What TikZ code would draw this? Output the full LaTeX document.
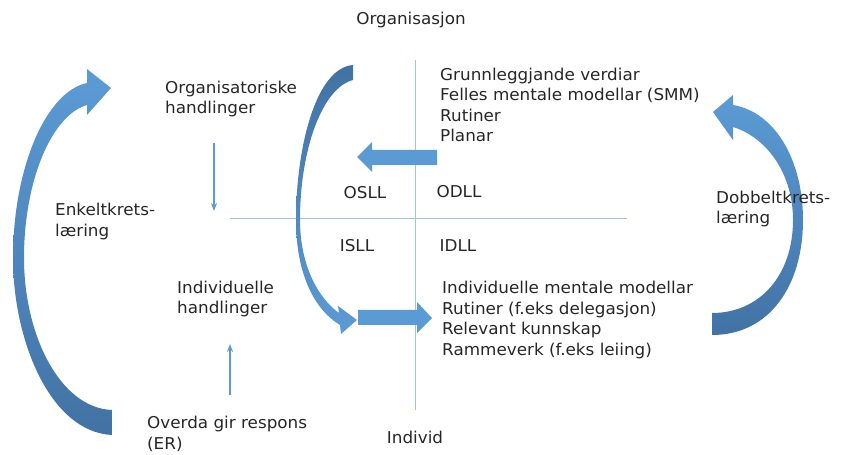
\documentclass[tikz,border=0pt]{standalone}
\usepackage{fontspec}
\setmainfont{DejaVu Sans}[FakeStretch=1.03]
\usepackage{xcolor}
\usetikzlibrary{calc, positioning, arrows.meta}
\definecolor{lblue}{HTML}{5B9BD5}
\definecolor{dblue}{HTML}{4272A4}
\definecolor{axisblue}{HTML}{9DC3E6}

\begin{document}
\begin{tikzpicture}[x=1bp, y=-1bp, txt/.style={inner sep=0pt, align=left, anchor=west, text=black!85, font=\fontsize{16.3bp}{20.6bp}\selectfont}, lbl/.style={inner sep=0pt, text=black!85, font=\fontsize{16.3bp}{20.6bp}\selectfont}, thinarr/.style={draw=lblue, line width=1.3bp, -{Stealth[length=8bp,width=6bp]}}, axisline/.style={draw=axisblue, line width=0.8bp}]
\useasboundingbox (0,0) rectangle (847,455);
% axes
\coordinate (top) at (415,60);
\coordinate (bot) at (415,410);
\coordinate (lft) at (230,218);
\coordinate (rgt) at (627,218);
\draw[axisline] (top) -- (bot);
\draw[axisline] (lft) -- (rgt);
% block arrows
\fill[lblue] (437,150) -- (372,150) -- (372,142) -- (357,157) -- (372,172) -- (372,165) -- (437,165) -- cycle;
\fill[lblue] (358,310) -- (417,310) -- (417,302) -- (432,318) -- (417,333) -- (417,325) -- (358,325) -- cycle;
% curved arrows
\shade[top color=lblue, bottom color=dblue] (112,435) .. controls (50,432) and (13,340) .. (13,258) .. controls (13,170) and (45,92) .. (87,83) -- (87,69) -- (111,88) -- (87,115) -- (87,105) .. controls (52,115) and (24,180) .. (24,258) .. controls (24,335) and (60,408) .. (112,410) -- cycle;
\shade[top color=lblue, bottom color=dblue] (712,335) .. controls (770,335) and (803,285) .. (803,220) .. controls (803,160) and (775,112) .. (733,105) -- (733,95) -- (713,112) -- (733,140) -- (733,127) .. controls (768,138) and (793,175) .. (793,220) .. controls (793,275) and (760,313) .. (712,313) -- cycle;
\shade[top color=dblue, bottom color=lblue] (353,65) .. controls (315,68) and (296,150) .. (296,220) .. controls (296,275) and (315,310) .. (340,325) -- (341,334) -- (357,320) -- (338,306) -- (339,313) .. controls (318,298) and (300,265) .. (300,220) .. controls (300,150) and (322,88) .. (353,80) -- cycle;
% labels
\node[lbl] (org) at (411,20) {Organisasjon};
\node[lbl] (ind) at (415,437) {Individ};
\node[lbl] (osll) at (365,193) {OSLL};
\node[lbl] (odll) at (459,192) {ODLL};
\node[lbl] (isll) at (357,246) {ISLL};
\node[lbl] (idll) at (458,246) {IDLL};
\node[txt] (orgh) at (165,99) {Organisatoriske\\handlinger};
\node[txt] (enk) at (55,221.5) {Enkeltkrets-\\læring};
\node[txt] (indh) at (177,299) {Individuelle\\handlinger};
\node[txt] (er) at (147,434) {Overda gir respons\\(ER)};
\node[txt] (ovre) at (440,105) {Grunnleggjande verdiar\\Felles mentale modellar (SMM)\\Rutiner\\Planar};
\node[txt] (nedre) at (442,320) {Individuelle mentale modellar\\Rutiner (f.eks delegasjon)\\Relevant kunnskap\\Rammeverk (f.eks leiing)};
\node[txt] (dob) at (716,209) {Dobbeltkrets-\\læring};
% thin arrows
\coordinate (a1) at (214,143);
\coordinate (a2) at (214,211);
\coordinate (b1) at (230,395);
\coordinate (b2) at (230,344);
\draw[thinarr] (a1) -- (a2);
\draw[thinarr] (b1) -- (b2);
\end{tikzpicture}
\end{document}
